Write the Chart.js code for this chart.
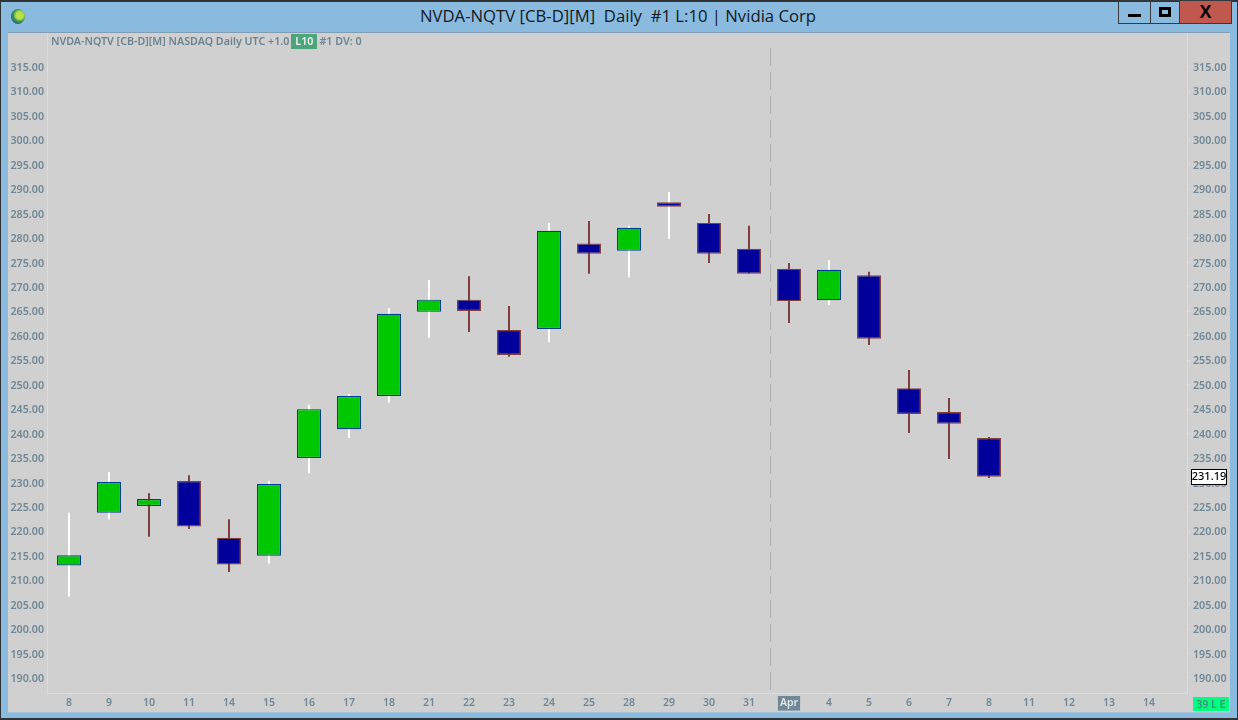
<!DOCTYPE html>
<html><head><meta charset="utf-8">
<style>
html,body{margin:0;padding:0;width:1238px;height:720px;overflow:hidden;background:#8abbdf;font-family:"Open Sans",sans-serif}
#frame{position:absolute;left:0;top:0;width:1236px;height:716px;border:1px solid #2f3336;border-bottom-width:3px;border-top-width:2px}
#title{position:absolute;left:0;width:1236px;top:6px;text-align:center;font-size:16.7px;line-height:20px;color:#10181f;white-space:pre}
#globe{position:absolute;left:11px;top:9px;width:14px;height:15px;border-radius:50%;background:radial-gradient(circle at 62% 42%,#b7e04a 0 30%,#3e9a4a 50%,#1d4f9c 80%)}
.btn{position:absolute;top:0;height:24px;border:1px solid #33393d;box-sizing:border-box}
#bmin{left:1118px;width:33px}#bmax{left:1150px;width:30px}#bclose{left:1179px;width:53px;background:#c1584d}
#bmin i{position:absolute;left:9px;top:13px;width:13px;height:3px;background:#000}
#bmax i{position:absolute;left:8px;top:6px;width:12px;height:10px;border:3px solid #000;box-sizing:border-box}
#bclose b{position:absolute;left:0;right:0;top:1px;text-align:center;font:bold 18px/20px "Liberation Sans",sans-serif;color:#000}
#panel{position:absolute;left:8px;top:33px;width:1222px;height:679px;background:#d0d0d0;box-shadow:0 -1px 0 #7f9db5,0 1px 0 #a9c4d8}
canvas{position:absolute;left:0;top:0}
#info{position:absolute;left:51px;top:34px;font:600 10.7px/15px "Noto Sans",sans-serif;color:#6b8492;white-space:pre}
#info span{display:inline-block;background:#4ea57c;color:#e8f2ec;padding:0 4px;margin:0 2px}
#mode{position:absolute;left:1193px;top:697px;width:36px;height:14px;background:#00ff7f;color:#4f8a80;text-align:center;font:600 10.5px/14px "Noto Sans",sans-serif}
</style></head><body>
<div id="frame"></div>
<div id="globe"></div>
<div id="title">NVDA-NQTV [CB-D][M]  Daily  #1 L:10 | Nvidia Corp</div>
<div class="btn" id="bmin"><i></i></div><div class="btn" id="bmax"><i></i></div><div class="btn" id="bclose"><b>X</b></div>
<div id="panel"><canvas id="c" width="1222" height="679"></canvas></div>
<div id="info">NVDA-NQTV [CB-D][M] NASDAQ Daily UTC +1.0<span>L10</span>#1 DV: 0</div>
<div id="mode">39 L E</div>
<script src="https://cdn.jsdelivr.net/npm/chart.js@4"></script>
<script>
const categories=["8","9","10","11","14","15","16","17","18","21","22","23","24","25","28","29","30","31","Apr","4","5","6","7","8","11","12","13","14"];
const opens=[213,223.8,225.2,230.3,218.7,215,235,240.9,247.7,264.9,267.4,261.2,261.4,278.9,277.4,287.3,283.1,277.8,273.7,267.3,272.4,249.3,244.4,239.1];
const highs=[223.8,232.1,227.8,231.5,222.5,230.3,245.9,248.1,265.7,271.4,272.2,266.1,283.1,283.5,282.5,289.4,284.9,282.5,274.9,275.5,273.1,253,247.3,239.3];
const lows=[206.6,222.5,218.9,220.5,211.7,213.4,231.9,239.1,246.3,259.6,260.8,255.7,258.7,272.7,272,279.8,274.9,272.7,262.6,266.3,258.1,240.1,234.8,230.9];
const closes=[215.1,230.1,226.6,221,213.2,229.7,245,247.7,264.5,267.4,265.1,256.1,281.5,276.8,282.1,286.4,276.8,272.7,267.1,273.5,259.4,244,242,231.19];
const priceTicks=[190,195,200,205,210,215,220,225,230,235,240,245,250,255,260,265,270,275,280,285,290,295,300,305,310,315];
const lastPrice=231.19;
const sessionBreak=17.54;

const GREEN='#00c800',NAVY='#00009b',BLUE='#003f8f',BROWN='#7f3f3f',WHITE='#ffffff';
const TICK='#6f8796',LINE='#dcdcdc';
const FONT='"Noto Sans",sans-serif';
const Y_MIN=186.93,Y_MAX=321.95;
const isUp=i=>closes[i]>opens[i];
const wickColor=closes.map((c,i)=>i===0||c>=closes[i-1]?WHITE:BROWN);
const noPad=(s)=>{s.paddingTop=0;s.paddingBottom=0;s.paddingLeft=0;s.paddingRight=0;};
const fixWidth=(w)=>(s)=>{s.width=w;noPad(s);};
const setPriceTicks=(s)=>{s.ticks=priceTicks.map(v=>({value:v}));};

const lastPricePlugin={id:'lastPrice',afterDraw(ch){
  const g=ch.ctx,y=Math.round(ch.scales.y.getPixelForValue(lastPrice));
  g.save();
  g.fillStyle='#fff';g.strokeStyle='#000';g.lineWidth=1;
  g.fillRect(1183.5,y-7.5,35,15);g.strokeRect(1183.5,y-7.5,35,15);
  g.fillStyle='#000';g.font='500 11px '+FONT;g.textAlign='center';g.textBaseline='middle';
  g.fillText(lastPrice.toFixed(2),1201,y);
  g.restore();
}};

new Chart(document.getElementById('c'),{
  data:{datasets:[
    {type:'bar',label:'Body',grouped:false,order:1,barThickness:24,borderWidth:1.2,borderSkipped:false,inflateAmount:0,
     data:opens.map((o,i)=>({x:i,y:[o,closes[i]]})),
     backgroundColor:opens.map((o,i)=>isUp(i)?GREEN:NAVY),
     borderColor:opens.map((o,i)=>isUp(i)?BLUE:BROWN)},
    {type:'bar',label:'Wick',grouped:false,order:2,barThickness:2,borderWidth:0,inflateAmount:0,
     data:lows.map((l,i)=>({x:i,y:[l,highs[i]]})),
     backgroundColor:wickColor},
    {type:'line',label:'Session',order:3,yAxisID:'y',pointRadius:0,borderWidth:1,borderColor:'#a9a9a9',borderDash:[18,6],
     data:[{x:sessionBreak,y:318.9},{x:sessionBreak,y:187}]}
  ]},
  options:{
    responsive:false,animation:false,devicePixelRatio:1,
    layout:{padding:0},
    plugins:{legend:{display:false},tooltip:{enabled:false},title:{display:false}},
    scales:{
      x:{type:'linear',min:-0.55,max:27.95,offset:false,
        afterBuildTicks:s=>{s.ticks=categories.map((_,i)=>({value:i}));},
        afterFit:s=>{s.height=19;noPad(s);},
        grid:{offset:false,drawOnChartArea:false,color:LINE,tickLength:3},border:{color:LINE},
        ticks:{autoSkip:false,maxRotation:0,padding:1,font:{family:FONT,size:10.5,weight:'600'},
          color:c=>categories[c.index]==='Apr'?'#e4e8ea':TICK,
          showLabelBackdrop:c=>categories[c.index]==='Apr',
          backdropColor:'#6f8796',backdropPadding:{left:2,right:2,top:1,bottom:1},
          callback:(v)=>categories[v]}},
      y:{position:'left',min:Y_MIN,max:Y_MAX,
        afterBuildTicks:setPriceTicks,afterFit:fixWidth(39),
        grid:{drawOnChartArea:false,drawTicks:false},border:{color:LINE},
        ticks:{autoSkip:false,padding:3,labelOffset:1,color:TICK,font:{family:FONT,size:10.7,weight:'600'},callback:v=>Number(v).toFixed(2)}},
      y2:{position:'right',min:Y_MIN,max:Y_MAX,
        afterBuildTicks:setPriceTicks,afterFit:fixWidth(43),
        grid:{drawOnChartArea:false,color:LINE,tickLength:3},border:{color:LINE},
        ticks:{autoSkip:false,padding:3,labelOffset:1,color:TICK,font:{family:FONT,size:10.7,weight:'600'},callback:v=>Number(v).toFixed(2)}}
    }
  },
  plugins:[lastPricePlugin]
});
</script>
</body></html>
